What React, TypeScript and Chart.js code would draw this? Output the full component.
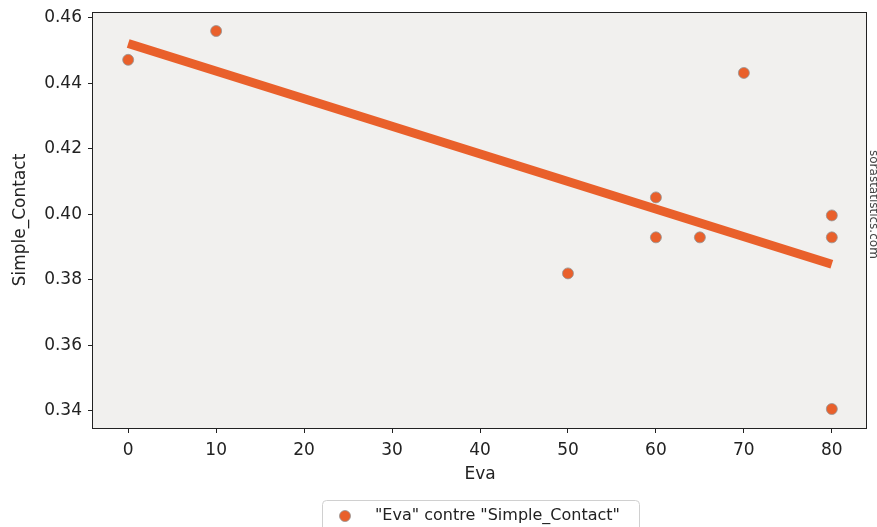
import React, { useEffect, useRef } from "react";
import { Chart, registerables } from "chart.js";

Chart.register(...registerables);

const xValues = [0, 10, 50, 60, 60, 65, 70, 80, 80, 80];
const yValues = [0.4472, 0.456, 0.382, 0.4052, 0.393, 0.393, 0.4432, 0.3997, 0.393, 0.3406];
const fitX = [0, 80];
const fitY = [0.4522, 0.3848];
const xTicks = [0, 10, 20, 30, 40, 50, 60, 70, 80];
const yTicks = [0.34, 0.36, 0.38, 0.4, 0.42, 0.44, 0.46];
const xTitle = "Eva";
const yTitle = "Simple_Contact";
const legendLabel = '"Eva" contre "Simple_Contact"';
const watermark = "sorastatistics.com";

const ORANGE = "#e9602b";
const FONT = "'DejaVu Sans', sans-serif";

export default function App() {
  const ref = useRef<HTMLCanvasElement | null>(null);

  useEffect(() => {
    document.body.style.margin = "0";
    const canvas = ref.current;
    if (!canvas) return;

    const decor = {
      id: "decor",
      beforeDraw(chart: any) {
        const { ctx, chartArea: a } = chart;
        ctx.save();
        ctx.fillStyle = "#f1f0ee";
        ctx.fillRect(a.left, a.top, a.right - a.left, a.bottom - a.top);
        ctx.restore();
      },
      afterDatasetsDraw(chart: any) {
        const { ctx, chartArea: a } = chart;
        ctx.save();
        ctx.strokeStyle = "#222";
        ctx.lineWidth = 1;
        ctx.strokeRect(Math.round(a.left) - 0.5, Math.round(a.top) + 0.5, Math.round(a.right - a.left), Math.round(a.bottom - a.top));
        ctx.restore();
      },
      afterDraw(chart: any) {
        const { ctx, chartArea: a } = chart;
        ctx.save();
        // legend box
        const bx = 322.5, by = 500.5, bw = 317, bh = 40;
        ctx.beginPath();
        (ctx as any).roundRect(bx, by, bw, bh, 4);
        ctx.fillStyle = "rgba(255,255,255,0.9)";
        ctx.fill();
        ctx.strokeStyle = "#d0d0d0";
        ctx.lineWidth = 1;
        ctx.stroke();
        ctx.beginPath();
        ctx.arc(345, 516, 5.5, 0, Math.PI * 2);
        ctx.fillStyle = ORANGE;
        ctx.fill();
        ctx.strokeStyle = "rgba(150,150,150,0.8)";
        ctx.stroke();
        ctx.fillStyle = "#222";
        ctx.font = `16px ${FONT}`;
        ctx.textBaseline = "middle";
        ctx.textAlign = "left";
        ctx.fillText(legendLabel, 375, 516);
        // watermark
        ctx.translate(a.right + 6, 150);
        ctx.rotate(Math.PI / 2);
        ctx.font = `12px ${FONT}`;
        ctx.fillStyle = "#444";
        ctx.textBaseline = "middle";
        ctx.fillText(watermark, 0, 0);
        ctx.restore();
      },
    };

    const chart = new Chart(canvas, {
      type: "scatter",
      data: {
        datasets: [
          {
            type: "scatter",
            label: legendLabel,
            data: xValues.map((x, i) => ({ x, y: yValues[i] })),
            backgroundColor: ORANGE,
            borderColor: "rgba(150,150,150,0.8)",
            borderWidth: 1,
            pointRadius: 5.5,
            order: 2,
          },
          {
            type: "line",
            label: "fit",
            data: fitX.map((x, i) => ({ x, y: fitY[i] })),
            borderColor: ORANGE,
            borderWidth: 9,
            borderCapStyle: "butt",
            pointRadius: 0,
            showLine: true,
            fill: false,
            order: 1,
          } as any,
        ],
      },
      options: {
        responsive: false,
        animation: false,
        devicePixelRatio: 1,
        layout: { padding: { top: 12, left: 0, right: 10, bottom: 39 } },
        plugins: { legend: { display: false }, tooltip: { enabled: false } },
        scales: {
          x: {
            type: "linear",
            min: -4,
            max: 84,
            afterBuildTicks: (s: any) => {
              s.ticks = xTicks.map((v) => ({ value: v }));
            },
            afterFit: (s: any) => {
              s.height = 60;
              s.paddingLeft = 0;
              s.paddingRight = 0;
            },
            grid: { display: true, drawOnChartArea: false, drawTicks: true, tickLength: 5, color: "#222" },
            border: { display: false },
            ticks: { color: "#222", font: { family: FONT, size: 17 }, padding: 7, callback: (v: any) => String(v) },
            title: { display: true, text: xTitle, color: "#222", font: { family: FONT, size: 17 }, padding: { top: 0, bottom: 3 } },
          },
          y: {
            type: "linear",
            min: 0.3348,
            max: 0.4618,
            afterBuildTicks: (s: any) => {
              s.ticks = yTicks.map((v) => ({ value: v }));
            },
            afterFit: (s: any) => {
              s.width = 93;
              s.paddingTop = 0;
              s.paddingBottom = 0;
            },
            grid: { display: true, drawOnChartArea: false, drawTicks: true, tickLength: 5, color: "#222" },
            border: { display: false },
            ticks: { color: "#222", font: { family: FONT, size: 17 }, padding: 6, callback: (v: any) => Number(v).toFixed(2) },
            title: { display: true, text: yTitle, color: "#222", font: { family: FONT, size: 17 }, padding: { top: 10, bottom: 0 } },
          },
        },
      },
      plugins: [decor],
    });

    return () => chart.destroy();
  }, []);

  return (
    <div style={{ position: "absolute", left: 0, top: 0, width: 877, height: 527, background: "#fff" }}>
      <canvas ref={ref} width={877} height={527} style={{ display: "block", width: 877, height: 527 }} />
    </div>
  );
}
